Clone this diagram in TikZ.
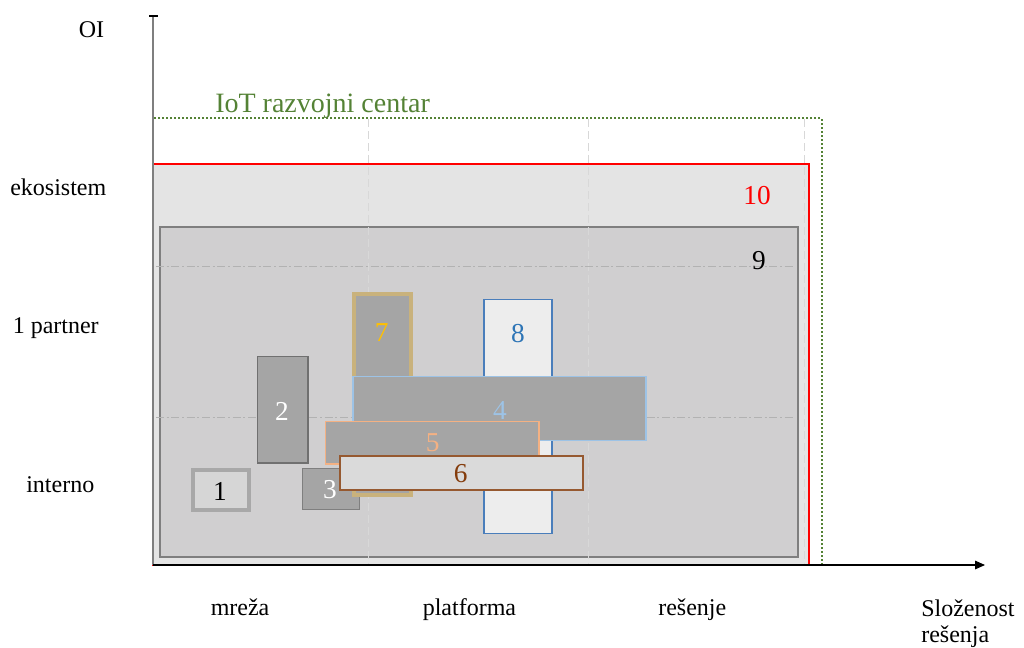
\documentclass[tikz,border=0pt]{standalone}
\usepackage{fontspec}
\setmainfont{Liberation Serif}
\usetikzlibrary{arrows.meta}

\definecolor{iotgreen}{HTML}{548235}
\definecolor{outerfill}{HTML}{E4E4E4}
\definecolor{innerfill}{HTML}{D0CFD0}
\definecolor{innerline}{HTML}{7F7F7F}
\definecolor{midgray}{HTML}{A5A5A5}
\definecolor{lightline}{HTML}{A8A8A8}
\definecolor{gridv}{HTML}{D8D8D8}
\definecolor{gridh}{HTML}{B2B2B2}
\definecolor{tanline}{HTML}{C9B27C}
\definecolor{gold}{HTML}{FFC000}
\definecolor{blueline}{HTML}{4A7EBB}
\definecolor{bluetext}{HTML}{2E75B6}
\definecolor{lightblue}{HTML}{9DC3E6}
\definecolor{peach}{HTML}{F4B183}
\definecolor{rust}{HTML}{843C0C}

\tikzset{
  axislabel/.style={font=\fontsize{18}{20}\selectfont, inner sep=0pt, anchor=base west},
  numlabel/.style={font=\fontsize{20.5}{22}\selectfont, inner sep=0pt, anchor=center},
  area/.style={line width=1.5pt},
  gridvline/.style={draw=gridv, line width=0.75pt, dash pattern=on 6pt off 3pt},
  gridhline/.style={draw=gridh, line width=0.75pt, dash pattern=on 6pt off 2pt on 1.5pt off 2pt},
  fieldbox/.style={line width=1.1pt}
}

\begin{document}
\begin{tikzpicture}[x=0.75pt, y=-0.75pt]
\useasboundingbox (0,0) rectangle (1024,647);

% outer areas: development centre, 10 and 9
\draw[draw=iotgreen, line width=1.5pt, dash pattern=on 1.5pt off 1.5pt] (153,118) rectangle (821.5,565);
\draw[area, draw=red, fill=outerfill] (153,163.5) rectangle (809,565);
\draw[draw=innerline, fill=innerfill, line width=1.9pt] (160,227) rectangle (798,557);

% grid
\draw[gridvline] (368,119) -- (368,565);
\draw[gridvline] (588,119) -- (588,565);
\draw[gridvline] (804,119) -- (804,565);
\draw[gridhline] (156,266) -- (795,266);
\draw[gridhline] (156,417) -- (795,417);

% axes
\coordinate (ytop) at (153,16);
\coordinate (origin) at (153,565);
\coordinate (xend) at (985,565);
\draw[draw=innerline, line width=0.8pt] (origin) -- (ytop);
\draw[line width=1.8pt] (149,16) -- (157.5,16);
\draw[line width=0.8pt, -{Triangle[length=7.5pt, width=6.5pt]}] (origin) -- (xend);

% axis labels
\node[axislabel] (oi) at (78.5,37) {OI};
\node[axislabel] (eko) at (10,195) {ekosistem};
\node[axislabel] (partner) at (12.5,333) {1 partner};
\node[axislabel] (interno) at (26,492.5) {interno};
\node[axislabel] (mreza) at (210.5,615) {mreža};
\node[axislabel] (platforma) at (422.5,615) {platforma};
\node[axislabel] (resenje) at (658,615) {rešenje};
\node[axislabel, align=left, anchor=base west] (slozenost) at (921,642)
  {Složenost\\[-1pt]rešenja};
\node[font=\fontsize{21}{23}\selectfont, text=iotgreen, inner sep=0pt, anchor=base west]
  (iot) at (215,112) {IoT razvojni centar};

% numbered fields
\draw[draw=lightline, fill=gray!32, line width=3pt] (193,470) rectangle (249,510);
\draw[fieldbox, draw=gray!88!black, fill=midgray] (257.5,356.5) rectangle (308,463);
\draw[fieldbox, draw=innerline, fill=midgray] (302.5,468.5) rectangle (359.5,509.5);
\draw[draw=tanline, fill=midgray, line width=3pt] (354,294.3) rectangle (411.3,495.3);
\draw[fieldbox, draw=blueline, fill=gray!14] (483.8,299.5) rectangle (552.2,533.5);
\draw[fieldbox, draw=lightblue, fill=midgray] (353.2,376.5) rectangle (646.2,440.5);
\draw[fieldbox, draw=peach, fill=midgray] (325.5,421.5) rectangle (538.8,464);
\draw[draw=rust!85, fill=gray!29, line width=1.4pt] (339.7,456.4) rectangle (583,490);

\node[numlabel] (n1) at (220,491) {1};
\node[numlabel, text=white] (n2) at (282,411) {2};
\node[numlabel, text=white] (n3) at (330,490) {3};
\node[numlabel, text=lightblue] (n4) at (500,410) {4};
\node[numlabel, text=peach] (n5) at (432.7,443) {5};
\node[numlabel, text=rust] (n6) at (460.7,474) {6};
\node[numlabel, text=gold] (n7) at (381.7,333) {7};
\node[numlabel, text=bluetext] (n8) at (518,334) {8};
\node[numlabel] (n9) at (759,261) {9};
\node[numlabel, text=red] (n10) at (757,196) {10};
\end{tikzpicture}
\end{document}
